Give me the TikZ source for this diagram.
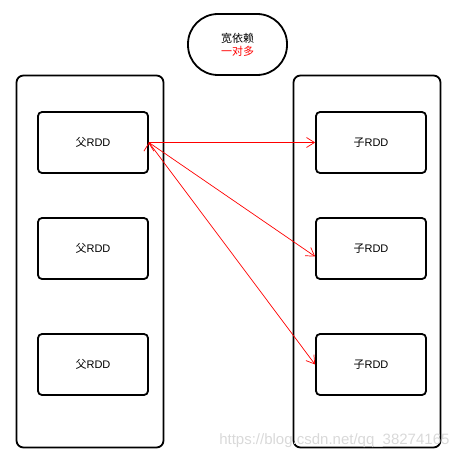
\documentclass[tikz,border=0pt]{standalone}
\usepackage{fontspec}
\setmainfont{Liberation Sans}
\newfontfamily\cjk{Noto Sans CJK SC}
\usetikzlibrary{positioning,arrows.meta}

\begin{document}
\begin{tikzpicture}[x=1pt,y=-1pt,
  container/.style={draw,line width=1.8pt,rounded corners=7pt,minimum width=147pt,minimum height=372pt},
  rdd/.style={draw,line width=1.8pt,rounded corners=4pt,minimum width=110pt,minimum height=61pt,font=\fontsize{11}{12}\selectfont},
  title/.style={draw,line width=1.8pt,rounded corners=30pt,minimum width=99pt,minimum height=61pt,align=center,font=\fontsize{11}{13}\selectfont},
  dep/.style={draw=red,line width=0.7pt,-{Straight Barb[length=8pt,width=10pt,line width=0.7pt]}}]
  \useasboundingbox (0,0) rectangle (458,460);

  \node[title] (wide) at (237.5,44.5) {{\cjk 宽依赖}\\{\color{red}\cjk 一对多}};

  \node[container] (parents)  at (90,261.5) {};
  \node[container] (children) at (367,261.5) {};

  \node[rdd] (p1) at (93,142.5) {{\cjk 父}RDD};
  \node[rdd] (p2) at (93,248.5) {{\cjk 父}RDD};
  \node[rdd] (p3) at (93,364.5) {{\cjk 父}RDD};

  \node[rdd] (c1) at (371,142.5) {{\cjk 子}RDD};
  \node[rdd] (c2) at (371,248.5) {{\cjk 子}RDD};
  \node[rdd] (c3) at (371,364.5) {{\cjk 子}RDD};

  % one parent feeds every child
  \path[dep]
    (p1.east) edge (c1.west)
              edge ([yshift=-8pt]c2.west)
              edge (c3.west);

  \node[text=black!15,font=\fontsize{15}{15}\selectfont,anchor=east] (mark) at (453,441) {https://blog.csdn.net/qq\_38274165};
\end{tikzpicture}
\end{document}
